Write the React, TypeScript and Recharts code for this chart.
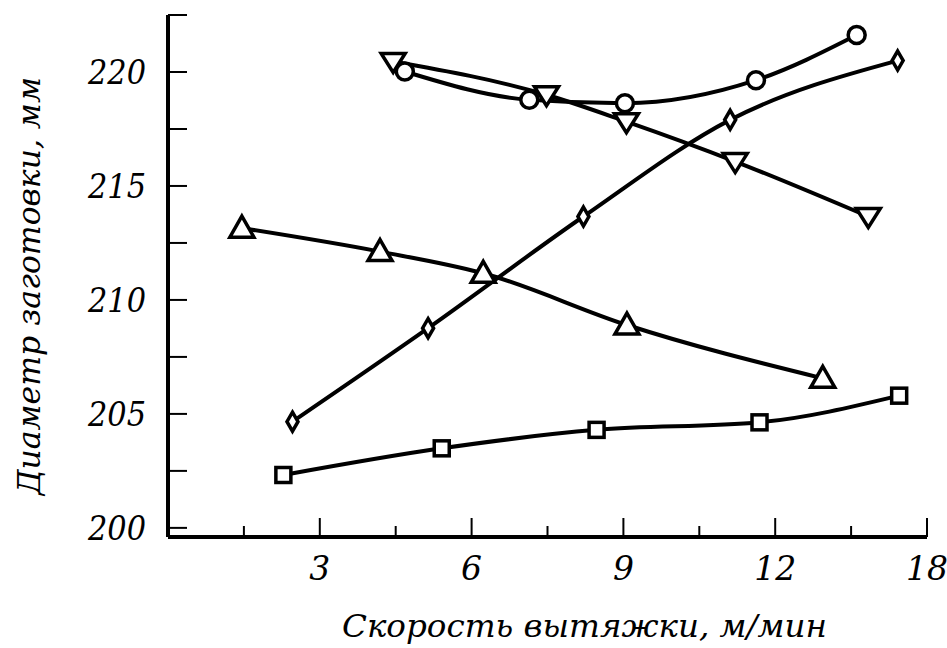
import React from 'react';
import { LineChart, Line, XAxis, YAxis } from 'recharts';

// Values (x on the drawn axis scale, where the last tick labelled "18" sits at 15)
const squareX = [2.28, 5.41, 8.47, 11.69, 14.45];
const squareY = [202.32, 203.49, 204.3, 204.63, 205.8];

const diamondX = [2.46, 5.14, 8.21, 11.11, 14.42];
const diamondY = [204.66, 208.76, 213.66, 217.9, 220.5];

const triUpX = [1.46, 4.19, 6.23, 9.07, 12.94];
const triUpY = [213.15, 212.12, 211.17, 208.9, 206.56];

const triDownX = [4.45, 7.48, 9.06, 11.21, 13.84];
const triDownY = [220.46, 219.0, 217.82, 216.07, 213.66];

const circleX = [4.68, 7.14, 9.03, 11.62, 13.61];
const circleY = [220.02, 218.78, 218.63, 219.64, 221.62];

const xTicks = [1.5, 3, 4.5, 6, 7.5, 9, 10.5, 12, 13.5, 15];
const xMajorTicks = [3, 6, 9, 12, 15];
const xTickLabels = ['3', '6', '9', '12', '18'];

const yTicks = [200, 202.5, 205, 207.5, 210, 212.5, 215, 217.5, 220, 222.5];
const yMajorTicks = [200, 205, 210, 215, 220];
const yTickLabels = ['200', '205', '210', '215', '220'];

const xTitle = 'Скорость вытяжки, м/мин';
const yTitle = 'Диаметр заготовки, мм';

const zip = (xs: number[], ys: number[]) => xs.map((x, i) => ({ x, y: ys[i] }));

const TEXT_STYLE: React.CSSProperties = {
  fontFamily: "'DejaVu Serif', serif",
  fontStyle: 'italic',
  fontWeight: 'normal',
};
const SW = 3.5;

const SquareDot = (p: any) => {
  if (p.cx == null || p.cy == null) return null;
  return <rect key={`sq-${p.index}`} x={p.cx - 7.5} y={p.cy - 7.5} width={15} height={15} fill="#fff" stroke="#000" strokeWidth={SW} />;
};
const DiamondDot = (p: any) => {
  if (p.cx == null || p.cy == null) return null;
  const { cx, cy } = p;
  return <path key={`di-${p.index}`} d={`M${cx},${cy - 9.5}L${cx + 5.5},${cy}L${cx},${cy + 9.5}L${cx - 5.5},${cy}Z`} fill="#fff" stroke="#000" strokeWidth={SW} strokeLinejoin="miter" />;
};
const TriUpDot = (p: any) => {
  if (p.cx == null || p.cy == null) return null;
  const { cx, cy } = p;
  return <path key={`tu-${p.index}`} d={`M${cx},${cy - 12}L${cx + 12},${cy + 9}L${cx - 12},${cy + 9}Z`} fill="#fff" stroke="#000" strokeWidth={SW} />;
};
const TriDownDot = (p: any) => {
  if (p.cx == null || p.cy == null) return null;
  const { cx, cy } = p;
  return <path key={`td-${p.index}`} d={`M${cx - 12},${cy - 8}L${cx + 12},${cy - 8}L${cx},${cy + 11}Z`} fill="#fff" stroke="#000" strokeWidth={SW} />;
};
const CircleDot = (p: any) => {
  if (p.cx == null || p.cy == null) return null;
  return <circle key={`ci-${p.index}`} cx={p.cx} cy={p.cy} r={8.5} fill="#fff" stroke="#000" strokeWidth={SW} />;
};

const XTick = (p: any) => {
  const v = p.payload.value;
  const mi = xMajorTicks.indexOf(v);
  const major = mi >= 0;
  return (
    <g>
      <line x1={p.x} y1={p.y} x2={p.x} y2={p.y - (major ? 19 : 11)} stroke="#000" strokeWidth={2} />
      {major && (
        <text x={p.x} y={p.y + 43} textAnchor="middle" style={TEXT_STYLE} fontSize={33} fill="#000">
          {xTickLabels[mi]}
        </text>
      )}
    </g>
  );
};

const YTick = (p: any) => {
  const v = p.payload.value;
  const mi = yMajorTicks.indexOf(v);
  return (
    <g>
      <line x1={p.x} y1={p.y} x2={p.x + 19} y2={p.y} stroke="#000" strokeWidth={2} />
      {mi >= 0 && (
        <text x={p.x - 22} y={p.y + 12} textAnchor="end" style={TEXT_STYLE} fontSize={33} fill="#000" textLength={58} lengthAdjust="spacingAndGlyphs">
          {yTickLabels[mi]}
        </text>
      )}
    </g>
  );
};

const XTitle = (p: any) => {
  const vb = p.viewBox || { x: 168, y: 537, width: 759 };
  const cx = vb.x + vb.width / 2 + 37;
  return (
    <text x={cx} y={vb.y + 100} textAnchor="middle" style={TEXT_STYLE} fontSize={31} fill="#000" textLength={485} lengthAdjust="spacingAndGlyphs">
      {xTitle}
    </text>
  );
};

const YTitle = (p: any) => {
  const vb = p.viewBox || { x: 167, y: 15, height: 522 };
  const bx = 40;
  const cy = vb.y + vb.height / 2 + 10;
  return (
    <text x={bx} y={cy} transform={`rotate(-90, ${bx}, ${cy})`} textAnchor="middle" style={TEXT_STYLE} fontSize={32} fill="#000" textLength={418} lengthAdjust="spacingAndGlyphs">
      {yTitle}
    </text>
  );
};

export default function App() {
  return (
    <div style={{ position: 'absolute', left: 0, top: 0, width: 947, height: 648, background: '#fff' }}>
      <LineChart width={947} height={648} margin={{ top: 15, right: 20, bottom: 110, left: 167 }}>
        <XAxis
          type="number"
          dataKey="x"
          domain={[0, 15]}
          ticks={xTicks}
          interval={0}
          allowDataOverflow
          height={1}
          tickSize={0}
          tickMargin={0}
          tickLine={false}
          tick={XTick}
          axisLine={{ stroke: '#000', strokeWidth: 4 }}
          label={XTitle}
        />
        <YAxis
          type="number"
          domain={[199.6, 222.5]}
          ticks={yTicks}
          interval={0}
          allowDataOverflow
          width={1}
          tickSize={0}
          tickMargin={0}
          tickLine={false}
          tick={YTick}
          axisLine={{ stroke: '#000', strokeWidth: 4 }}
          label={YTitle}
        />
        <Line data={zip(squareX, squareY)} dataKey="y" type="monotone" stroke="#000" strokeWidth={4} dot={SquareDot} activeDot={false} isAnimationActive={false} />
        <Line data={zip(diamondX, diamondY)} dataKey="y" type="monotone" stroke="#000" strokeWidth={4} dot={DiamondDot} activeDot={false} isAnimationActive={false} />
        <Line data={zip(triUpX, triUpY)} dataKey="y" type="monotone" stroke="#000" strokeWidth={4} dot={TriUpDot} activeDot={false} isAnimationActive={false} />
        <Line data={zip(triDownX, triDownY)} dataKey="y" type="monotone" stroke="#000" strokeWidth={4} dot={TriDownDot} activeDot={false} isAnimationActive={false} />
        <Line data={zip(circleX, circleY)} dataKey="y" type="monotone" stroke="#000" strokeWidth={4} dot={CircleDot} activeDot={false} isAnimationActive={false} />
      </LineChart>
    </div>
  );
}
